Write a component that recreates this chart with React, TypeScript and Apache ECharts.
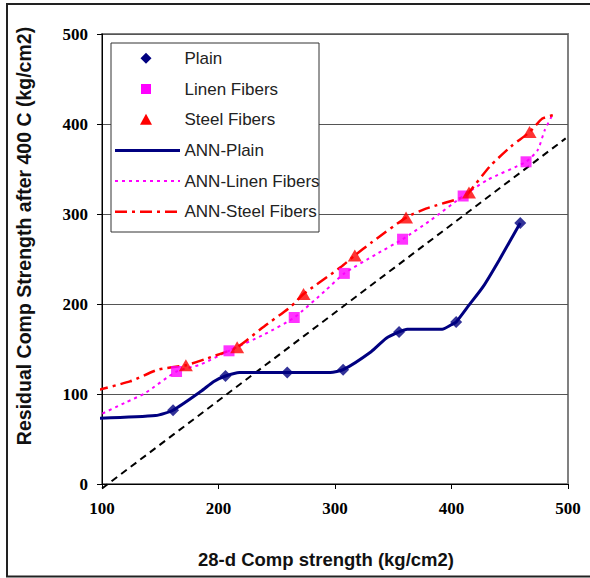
import React, { useEffect, useRef } from "react";
import * as echarts from "echarts";

// Measured points
const plainX = [161, 206, 259, 307, 355, 404, 459];
const plainY = [82, 120, 124, 127, 169, 180, 290];
const linenX = [164, 209, 265, 308, 358, 410, 464];
const linenY = [125, 148, 185, 234, 272, 320, 358];
const steelX = [172, 216, 273, 317, 361, 415, 467];
const steelY = [132, 152, 211, 254, 296, 324, 391];

// ANN predictions
const annPlainX = [95, 146, 161, 185, 196, 206, 218, 296, 307, 331, 344, 355, 362, 392, 400, 404, 414, 427, 441, 459];
const annPlainY = [73, 76, 82, 103, 114, 120, 124, 124, 127, 147, 162, 169, 172, 172, 177, 180, 197, 219, 249, 290];
const annLinenX = [95, 121, 137, 164, 185, 209, 239, 265, 291, 308, 335, 358, 382, 410, 431, 464, 474, 480, 487];
const annLinenY = [75, 91, 101, 125, 133, 148, 166, 185, 214, 234, 255, 272, 293, 320, 338, 358, 371, 393, 411];
const annSteelX = [95, 124, 148, 172, 189, 216, 237, 262, 273, 305, 317, 331, 361, 378, 411, 415, 433, 451, 467, 478, 488];
const annSteelY = [104, 114, 127, 132, 139, 152, 173, 197, 211, 241, 254, 268, 296, 306, 319, 324, 353, 375, 391, 406, 410];

// Equality reference line
const refX = [100, 498];
const refY = [-5, 384];

const xTicks = [100, 200, 300, 400, 500];
const yTicks = [0, 100, 200, 300, 400, 500];

const legendNames = ["Plain", "Linen Fibers", "Steel Fibers", "ANN-Plain", "ANN-Linen Fibers", "ANN-Steel Fibers"];
const xTitle = "28-d Comp strength (kg/cm2)";
const yTitle = "Residual Comp Strength after 400 C (kg/cm2)";

const NAVY = "#000080";
const MAGENTA = "#FF00FF";
const RED = "#FF0000";

const zip = (xs: number[], ys: number[]) => xs.map((x, i) => [x, ys[i]]);

export default function App() {
  const ref = useRef<HTMLDivElement>(null);
  useEffect(() => {
    document.body.style.margin = "0";
    if (!ref.current) return;
    const chart = echarts.init(ref.current, null, { renderer: "svg" });
    const sans = "'Liberation Sans', Arial, sans-serif";
    const serif = "'Liberation Serif', 'Times New Roman', serif";

    // Manual legend (box + icons + texts)
    const lgTop = 58.3;
    const lgStep = 30.7;
    const mx = 146;
    const lx0 = 115;
    const lx1 = 180;
    const tx = 184.5;
    const legendEls: any[] = [
      {
        type: "rect",
        z: 10,
        shape: { x: 111, y: 43, width: 208, height: 189 },
        style: { fill: "#fff", stroke: "#333", lineWidth: 1 },
      },
    ];
    legendNames.forEach((name, i) => {
      const cy = lgTop + i * lgStep;
      legendEls.push({
        type: "text",
        z: 12,
        x: tx,
        y: cy,
        style: { text: name, font: `17px ${sans}`, fill: "#222", align: "left", verticalAlign: "middle" },
      });
    });
    const c = (i: number) => lgTop + i * lgStep;
    legendEls.push(
      {
        type: "polygon",
        z: 12,
        shape: { points: [[mx, c(0) - 5.5], [mx + 5.5, c(0)], [mx, c(0) + 5.5], [mx - 5.5, c(0)]] },
        style: { fill: NAVY },
      },
      {
        type: "rect",
        z: 12,
        shape: { x: mx - 5, y: c(1) - 5, width: 10, height: 10 },
        style: { fill: MAGENTA },
      },
      {
        type: "polygon",
        z: 12,
        shape: { points: [[mx, c(2) - 6], [mx + 6, c(2) + 5], [mx - 6, c(2) + 5]] },
        style: { fill: RED },
      },
      {
        type: "line",
        z: 12,
        shape: { x1: lx0, y1: c(3), x2: lx1, y2: c(3) },
        style: { stroke: NAVY, lineWidth: 3 },
      },
      {
        type: "line",
        z: 12,
        shape: { x1: lx0, y1: c(4), x2: lx1, y2: c(4) },
        style: { stroke: MAGENTA, lineWidth: 2, lineDash: [3, 4] },
      },
      {
        type: "line",
        z: 12,
        shape: { x1: lx0, y1: c(5), x2: lx1, y2: c(5) },
        style: { stroke: RED, lineWidth: 2.5, lineDash: [12, 5, 3, 5] },
      }
    );

    chart.setOption({
      animation: false,
      backgroundColor: "#ffffff",
      grid: {
        left: 102,
        top: 34,
        right: 22,
        bottom: 94,
        show: true,
        borderColor: "#808080",
        borderWidth: 2,
        backgroundColor: "#ffffff",
      },
      xAxis: {
        type: "value",
        min: xTicks[0],
        max: xTicks[xTicks.length - 1],
        interval: xTicks[1] - xTicks[0],
        axisLine: { show: true, onZero: false, lineStyle: { color: "#000", width: 1 } },
        axisTick: { show: true, length: 5, lineStyle: { color: "#000" } },
        splitLine: { show: false },
        axisLabel: { margin: 16, fontFamily: serif, fontWeight: "bold", fontSize: 17, color: "#000" },
      },
      yAxis: {
        type: "value",
        min: yTicks[0],
        max: yTicks[yTicks.length - 1],
        interval: yTicks[1] - yTicks[0],
        axisLine: { show: true, onZero: false, lineStyle: { color: "#000", width: 1 } },
        axisTick: { show: true, length: 5, lineStyle: { color: "#000" } },
        splitLine: { show: true, lineStyle: { color: "#555", width: 1 } },
        axisLabel: { margin: 14, fontFamily: serif, fontWeight: "bold", fontSize: 17, color: "#000" },
      },
      graphic: [
        ...legendEls,
        {
          type: "rect",
          z: 6,
          shape: { x: 7, y: 4, width: 600, height: 572.5 },
          style: { fill: "none", stroke: "#222", lineWidth: 2 },
        },
        {
          type: "text",
          x: 326,
          y: 559,
          style: { text: xTitle, font: `bold 18.5px ${sans}`, fill: "#111", align: "center", verticalAlign: "middle" },
        },
        {
          type: "text",
          x: 24,
          y: 236,
          rotation: Math.PI / 2,
          style: { text: yTitle, font: `bold 19.5px ${sans}`, fill: "#111", align: "center", verticalAlign: "middle" },
        },
      ],
      series: [
        {
          name: "ref",
          type: "line",
          data: zip(refX, refY),
          symbol: "none",
          clip: false,
          silent: true,
          lineStyle: { color: "#000", width: 2, type: [7, 5] },
          z: 2,
        },
        {
          name: "ANN-Plain",
          type: "line",
          data: zip(annPlainX, annPlainY),
          symbol: "none",
          smooth: 0.2,
          clip: false,
          color: NAVY,
          lineStyle: { color: NAVY, width: 3 },
          z: 3,
        },
        {
          name: "ANN-Linen Fibers",
          type: "line",
          data: zip(annLinenX, annLinenY),
          symbol: "none",
          smooth: 0.2,
          clip: false,
          color: MAGENTA,
          lineStyle: { color: MAGENTA, width: 2, type: [3, 4] },
          z: 3,
        },
        {
          name: "ANN-Steel Fibers",
          type: "line",
          data: zip(annSteelX, annSteelY),
          symbol: "none",
          smooth: 0.2,
          clip: false,
          color: RED,
          lineStyle: { color: RED, width: 2.5, type: [12, 5, 3, 5] },
          z: 3,
        },
        {
          name: "Plain",
          type: "scatter",
          data: zip(plainX, plainY),
          symbol: "diamond",
          symbolSize: 12,
          itemStyle: { color: NAVY },
          z: 4,
        },
        {
          name: "Linen Fibers",
          type: "scatter",
          data: zip(linenX, linenY),
          symbol: "rect",
          symbolSize: 11,
          itemStyle: { color: MAGENTA },
          z: 4,
        },
        {
          name: "Steel Fibers",
          type: "scatter",
          data: zip(steelX, steelY),
          symbol: "triangle",
          symbolSize: [14, 12],
          itemStyle: { color: RED },
          z: 4,
        },
      ],
    });
    return () => chart.dispose();
  }, []);
  return <div ref={ref} style={{ width: 590, height: 578 }} />;
}
